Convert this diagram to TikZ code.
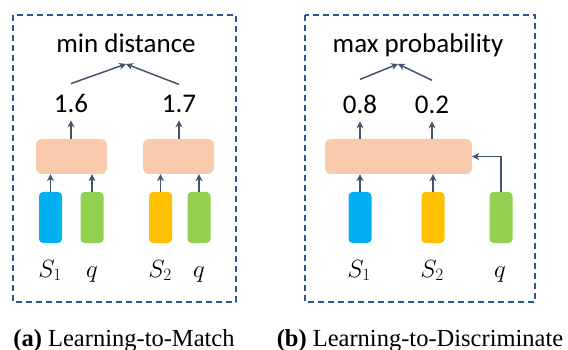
\documentclass[tikz,border=0pt]{standalone}
\usepackage{fontspec}
\setmainfont{Liberation Serif}
\newfontfamily\labelfont{Carlito}
\usetikzlibrary{shapes, arrows, arrows.meta}
\definecolor{frameblue}{HTML}{2F5597}
\definecolor{arrowgray}{HTML}{44546A}
\definecolor{peach}{HTML}{F8CBAD}
\definecolor{vecblue}{HTML}{00B0F0}
\definecolor{vecgold}{HTML}{FFC000}
\definecolor{vecgreen}{HTML}{92D050}
\tikzstyle{frame} = [draw=frameblue, line width=1.3pt, dash pattern=on 6pt off 4pt]
\tikzstyle{encoder} = [rectangle, rounded corners=6pt, fill=peach, minimum height=35pt, inner sep=0pt]
\tikzstyle{vec} = [rectangle, rounded corners=4pt, minimum width=23pt, minimum height=51pt, inner sep=0pt]
\tikzstyle{goal} = [font=\labelfont\fontsize{27}{30}\selectfont, inner sep=0pt, anchor=base]
\tikzstyle{score} = [font=\labelfont\fontsize{27}{30}\selectfont, inner xsep=0pt, inner ysep=7pt, anchor=base]
\tikzstyle{sym} = [font=\fontsize{27}{30}\selectfont, inner sep=0pt, anchor=base]
\tikzstyle{caption} = [font=\fontsize{24.5}{28}\selectfont, inner sep=0pt, anchor=base]
\tikzstyle{arrow} = [line width=1.5pt, draw=arrowgray, -{Stealth[length=7pt, width=7pt]}]

\begin{document}
\begin{tikzpicture}[x=1pt, y=-1pt]
\useasboundingbox (0,0) rectangle (568,350);

% (a) learning to match
\draw[frame] (13,15) rectangle (236,302);
\node[goal] (mind) at (126,53) {min distance};
\coordinate (tipa) at (126,64);
\node[score] (d1) at (71,113) {1.6};
\node[score] (d2) at (179,113) {1.7};
\node[encoder, minimum width=71pt] (enca) at (71.5,156.5) {};
\node[encoder, minimum width=71pt] (encb) at (178.5,156.5) {};
\node[vec, fill=vecblue] (sa) at (50.5,217.5) {};
\node[vec, fill=vecgreen] (qa) at (92,217.5) {};
\node[vec, fill=vecgold] (sb) at (160.5,217.5) {};
\node[vec, fill=vecgreen] (qb) at (199,217.5) {};
\node[sym] (la1) at (50,277) {$S_1$};
\node[sym] (la2) at (92,277) {$q$};
\node[sym] (la3) at (160,277) {$S_2$};
\node[sym] (la4) at (199,277) {$q$};
\draw[arrow] (sa.north) -- (sa.north |- enca.south);
\draw[arrow] (qa.north) -- (qa.north |- enca.south);
\draw[arrow] (sb.north) -- (sb.north |- encb.south);
\draw[arrow] (qb.north) -- (qb.north |- encb.south);
\draw[arrow] (enca.north -| d1) -- (d1.south);
\draw[arrow] (encb.north -| d2) -- (d2.south);
\draw[arrow] ([yshift=4pt]d1.north) -- (tipa);
\draw[arrow] ([yshift=4pt]d2.north) -- (tipa);
\node[caption] (capa) at (124,346) {\textbf{(a)} Learning-to-Match};

% (b) learning to discriminate
\draw[frame] (305,15) rectangle (535,302);
\node[goal] (maxp) at (418,53) {max probability};
\coordinate (tipb) at (398,64);
\node[score] (p1) at (360,114) {0.8};
\node[score] (p2) at (432,114) {0.2};
\node[encoder, minimum width=147pt] (encc) at (398.5,156.5) {};
\node[vec, fill=vecblue] (sc) at (360,217.5) {};
\node[vec, fill=vecgold] (sd) at (433,217.5) {};
\node[vec, fill=vecgreen] (qc) at (501,217.5) {};
\node[sym] (lb1) at (359,277) {$S_1$};
\node[sym] (lb2) at (432,277) {$S_2$};
\node[sym] (lb3) at (500,277) {$q$};
\draw[arrow] (sc.north) -- (sc.north |- encc.south);
\draw[arrow] (sd.north) -- (sd.north |- encc.south);
\draw[arrow] (qc.north) |- (encc.east);
\draw[arrow] (encc.north -| p1) -- (p1.south);
\draw[arrow] (encc.north -| p2) -- (p2.south);
\draw[arrow] ([yshift=9pt]p1.north) -- (tipb);
\draw[arrow] ([yshift=9pt]p2.north) -- (tipb);
\node[caption] (capb) at (420,346) {\textbf{(b)} Learning-to-Discriminate};
\end{tikzpicture}
\end{document}
